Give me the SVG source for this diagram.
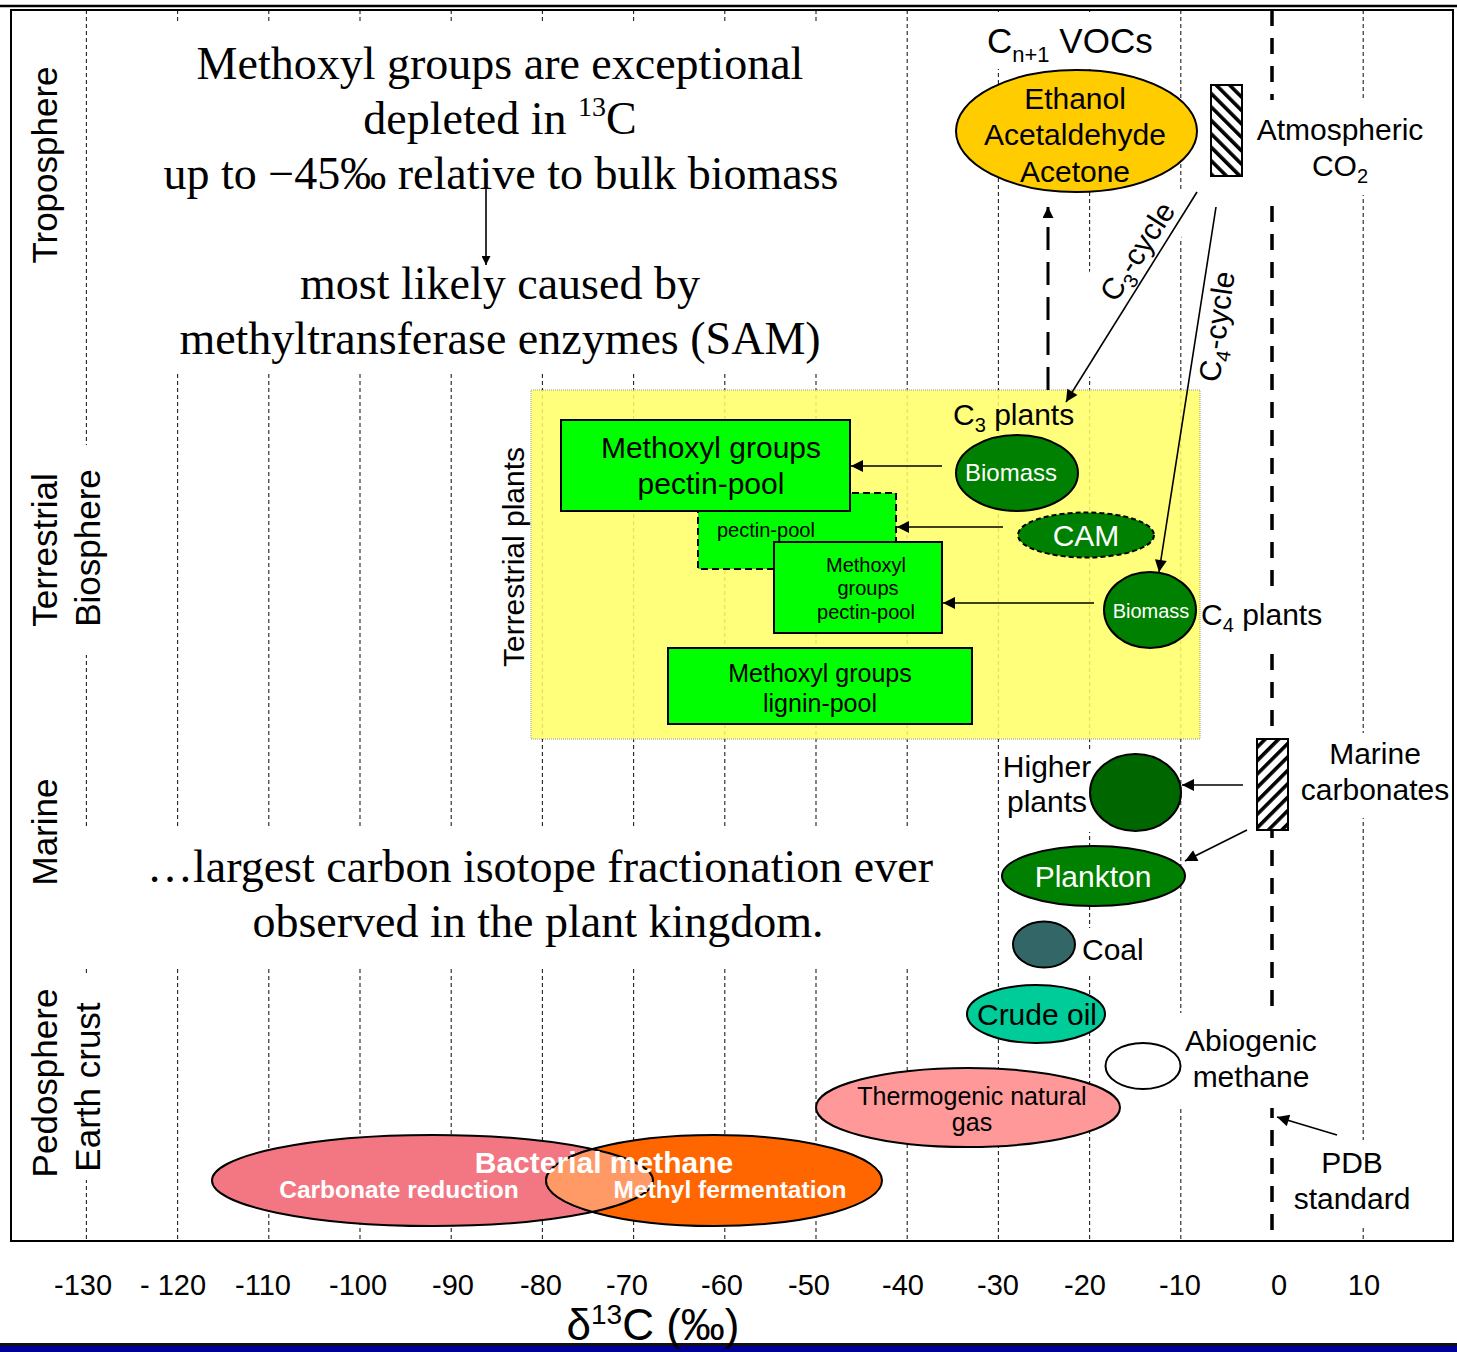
<svg xmlns="http://www.w3.org/2000/svg" width="1457" height="1352" viewBox="0 0 1457 1352">
<style>
text{font-family:"Liberation Sans",Arial,sans-serif;fill:#000}
.serif{font-family:"Liberation Serif","Times New Roman",serif;font-size:46px;text-anchor:middle}
.lbl{font-size:30px}
.mid{text-anchor:middle}
.axis{font-size:29px;text-anchor:middle}
.side{font-size:35px;text-anchor:middle}
.grid{stroke:#222;stroke-width:1.1;stroke-dasharray:4 3;fill:none}
.bg{fill:#fff}
.box{fill:#00ff00;stroke:#000;stroke-width:2}
.ell{stroke:#000;stroke-width:2}
.edge{stroke:#000;stroke-width:1.6;fill:none;marker-end:url(#ah)}
.wt{fill:#fff}
.bold{font-weight:bold}
</style>
<defs>
  <marker id="ah" viewBox="0 0 10 10" refX="10" refY="5" markerUnits="userSpaceOnUse" markerWidth="15" markerHeight="12" orient="auto">
    <path d="M0,0 L10,5 L0,10 z" fill="#000"/>
  </marker>
  <marker id="ahSmall" viewBox="0 0 10 10" refX="10" refY="5" markerUnits="userSpaceOnUse" markerWidth="12" markerHeight="9" orient="auto">
    <path d="M0,0 L10,5 L0,10 z" fill="#000"/>
  </marker>
  <marker id="ahThin" viewBox="0 0 10 10" refX="10" refY="5" markerUnits="userSpaceOnUse" markerWidth="14" markerHeight="11" orient="auto">
    <path d="M0,0 L10,5 L0,10 z" fill="#000"/>
  </marker>
  <!-- back-slash hatch for atmospheric CO2 -->
  <pattern id="hatchBack" patternUnits="userSpaceOnUse" width="9.5" height="9.5" patternTransform="rotate(-45)">
    <rect width="9.5" height="9.5" fill="#fff"/>
    <rect width="3.6" height="9.5" fill="#000"/>
  </pattern>
  <!-- forward-slash hatch for marine carbonates -->
  <pattern id="hatchFwd" patternUnits="userSpaceOnUse" width="9.5" height="9.5" patternTransform="rotate(45)">
    <rect width="9.5" height="9.5" fill="#fff"/>
    <rect width="3.6" height="9.5" fill="#000"/>
  </pattern>
  <clipPath id="clipOrange"><ellipse cx="714" cy="1180.5" rx="168" ry="45.5"/></clipPath>
  <clipPath id="clipPink"><ellipse cx="432.5" cy="1180.5" rx="220.5" ry="45.5"/></clipPath>
</defs>

<rect width="1457" height="1352" fill="#fff"/>

<!-- vertical delta-13C grid -->
<g id="grid">
  <line class="grid" x1="86.4" y1="10" x2="86.4" y2="1241"/>
  <line class="grid" x1="177.6" y1="10" x2="177.6" y2="1241"/>
  <line class="grid" x1="268.8" y1="10" x2="268.8" y2="1241"/>
  <line class="grid" x1="360" y1="10" x2="360" y2="1241"/>
  <line class="grid" x1="451.2" y1="10" x2="451.2" y2="1241"/>
  <line class="grid" x1="542.4" y1="10" x2="542.4" y2="1241"/>
  <line class="grid" x1="633.6" y1="10" x2="633.6" y2="1241"/>
  <line class="grid" x1="724.8" y1="10" x2="724.8" y2="1241"/>
  <line class="grid" x1="816" y1="10" x2="816" y2="1241"/>
  <line class="grid" x1="907.2" y1="10" x2="907.2" y2="1241"/>
  <line class="grid" x1="998.4" y1="10" x2="998.4" y2="1241"/>
  <line class="grid" x1="1089.6" y1="10" x2="1089.6" y2="1241"/>
  <line class="grid" x1="1180.8" y1="10" x2="1180.8" y2="1241"/>
  <line class="grid" x1="1363.2" y1="10" x2="1363.2" y2="1241"/>
  <!-- PDB standard (0 permil) -->
  <line x1="1272" y1="10" x2="1272" y2="1241" stroke="#000" stroke-width="3.5" stroke-dasharray="16 12"/>
</g>

<!-- opaque text-box backgrounds that break the grid -->
<g id="label-backgrounds">
  <rect class="bg" x="160" y="21" width="686" height="350"/>
  <rect class="bg" x="965" y="12" width="200" height="57"/>
  <rect class="bg" x="1252" y="100" width="176" height="95"/>
  <rect class="bg" x="-103" y="-29" width="206" height="58" transform="translate(1122 275) rotate(-57)"/>
  <rect class="bg" x="1198" y="588" width="125" height="60"/>
  <rect class="bg" x="1296" y="733" width="156" height="85"/>
  <rect class="bg" x="1001" y="752" width="91" height="80"/>
  <rect class="bg" x="80" y="828" width="905" height="139"/>
  <rect class="bg" x="1079" y="928" width="70" height="46"/>
  <rect class="bg" x="1178" y="1013" width="147" height="95"/>
  <rect class="bg" x="1290" y="1140" width="125" height="87"/>
  <rect class="bg" x="25" y="445" width="85" height="210"/>
  <rect class="bg" x="25" y="975" width="85" height="205"/>
</g>

<!-- frame -->
<line x1="0" y1="6" x2="1457" y2="6" stroke="#000" stroke-width="2.5"/>
<rect x="11" y="10" width="1442" height="1231" fill="none" stroke="#000" stroke-width="2"/>
<rect x="0" y="1343" width="1457" height="3" fill="#111"/>
<rect x="0" y="1346" width="1457" height="6" fill="#000099"/>

<!-- reservoir labels -->
<g id="reservoirs">
  <text class="side" transform="rotate(-90 57 165)" x="57" y="165">Troposphere</text>
  <text class="side" transform="rotate(-90 57 550)" x="57" y="550">Terrestrial</text>
  <text class="side" transform="rotate(-90 100 548)" x="100" y="548">Biosphere</text>
  <text class="side" transform="rotate(-90 57 832)" x="57" y="832">Marine</text>
  <text class="side" transform="rotate(-90 57 1083)" x="57" y="1083">Pedosphere</text>
  <text class="side" transform="rotate(-90 100 1087)" x="100" y="1087">Earth crust</text>
</g>

<!-- headline statements -->
<g id="statement-top">
  <text class="serif" x="500" y="79">Methoxyl groups are exceptional</text>
  <text class="serif" x="500" y="134">depleted in <tspan font-size="28" dy="-18">13</tspan><tspan dy="18">C</tspan></text>
  <text class="serif" x="501" y="189">up to −45‰ relative to bulk biomass</text>
</g>
<g id="statement-cause">
  <text class="serif" x="500" y="299">most likely caused by</text>
  <text class="serif" x="500" y="354">methyltransferase enzymes (SAM)</text>
</g>
<g id="statement-bottom">
  <text class="serif" x="540" y="882">…largest carbon isotope fractionation ever</text>
  <text class="serif" x="538" y="937">observed in the plant kingdom.</text>
</g>

<!-- terrestrial plants panel -->
<g id="terrestrial-plants">
  <rect x="531" y="390" width="669" height="349" fill="#ffff66" fill-opacity="0.86" stroke="#999" stroke-width="1" stroke-dasharray="1 1"/>
  <text transform="rotate(-90 524 557)" x="524" y="557" class="mid" font-size="30">Terrestrial plants</text>
</g>

<g id="cam-pectin-pool">
  <rect x="698" y="493" width="198" height="76" fill="#00ff00" stroke="#000" stroke-width="2" stroke-dasharray="7 4"/>
  <text x="717" y="537" font-size="20">pectin-pool</text>
</g>
<g id="c3-pectin-pool">
  <rect class="box" x="561" y="420" width="289" height="91"/>
  <text class="lbl mid" x="711" y="458">Methoxyl groups</text>
  <text class="lbl mid" x="711" y="494">pectin-pool</text>
</g>
<g id="c4-pectin-pool">
  <rect class="box" x="774" y="542" width="168" height="91"/>
  <text class="mid" font-size="20" x="866" y="572">Methoxyl</text>
  <text class="mid" font-size="20" x="868" y="595">groups</text>
  <text class="mid" font-size="20" x="866" y="619">pectin-pool</text>
</g>
<g id="lignin-pool">
  <rect class="box" x="668" y="648" width="304" height="76"/>
  <text class="mid" font-size="25" x="820" y="682">Methoxyl groups</text>
  <text class="mid" font-size="25" x="820" y="712">lignin-pool</text>
</g>

<g id="c3-biomass">
  <ellipse class="ell" cx="1017" cy="473" rx="61" ry="38" fill="#008000"/>
  <text class="wt mid" font-size="24" x="1011" y="481">Biomass</text>
  <text class="lbl" x="953" y="425">C<tspan font-size="20" dy="7">3</tspan><tspan dy="-7"> plants</tspan></text>
</g>
<g id="cam">
  <ellipse cx="1086" cy="535" rx="68" ry="22.5" fill="#008000" stroke="#000" stroke-width="2" stroke-dasharray="5 3"/>
  <text class="wt mid lbl" x="1086" y="546">CAM</text>
</g>
<g id="c4-biomass">
  <ellipse class="ell" cx="1150" cy="610" rx="46" ry="38" fill="#008000"/>
  <text class="wt mid" font-size="20" x="1151" y="618">Biomass</text>
  <text class="lbl" x="1201" y="625">C<tspan font-size="20" dy="7">4</tspan><tspan dy="-7"> plants</tspan></text>
</g>

<!-- troposphere -->
<g id="vocs">
  <ellipse class="ell" cx="1076.5" cy="131" rx="120.5" ry="61" fill="#ffcc00"/>
  <text class="lbl mid" x="1075" y="109">Ethanol</text>
  <text class="lbl mid" x="1075" y="145">Acetaldehyde</text>
  <text class="lbl mid" x="1075" y="182">Acetone</text>
  <text x="987" y="53" font-size="35">C<tspan font-size="22" dy="9">n+1</tspan><tspan dy="-9"> VOCs</tspan></text>
</g>
<g id="atmospheric-co2">
  <rect x="1211" y="85" width="31" height="91" fill="url(#hatchBack)" stroke="#000" stroke-width="2"/>
  <text class="lbl mid" x="1340" y="140">Atmospheric</text>
  <text class="lbl mid" x="1340" y="176">CO<tspan font-size="20" dy="7">2</tspan></text>
</g>

<!-- marine -->
<g id="marine-carbonates">
  <rect x="1257" y="739" width="31" height="91" fill="url(#hatchFwd)" stroke="#000" stroke-width="2"/>
  <text class="lbl mid" x="1375" y="764">Marine</text>
  <text class="lbl mid" x="1375" y="800">carbonates</text>
</g>
<g id="higher-plants">
  <ellipse class="ell" cx="1135.5" cy="792.5" rx="45.5" ry="38.5" fill="#006600"/>
  <text class="lbl mid" x="1047" y="777">Higher</text>
  <text class="lbl mid" x="1047" y="812">plants</text>
</g>
<g id="plankton">
  <ellipse class="ell" cx="1093.5" cy="876" rx="91.5" ry="30" fill="#008000"/>
  <text class="wt lbl mid" x="1093" y="887">Plankton</text>
</g>

<!-- earth crust -->
<g id="coal">
  <ellipse class="ell" cx="1044" cy="944.5" rx="31" ry="23" fill="#336666"/>
  <text class="lbl" x="1082" y="960">Coal</text>
</g>
<g id="crude-oil">
  <ellipse class="ell" cx="1036" cy="1014" rx="69" ry="29" fill="#00cc99"/>
  <text class="lbl mid" x="1037" y="1025">Crude oil</text>
</g>
<g id="abiogenic-methane">
  <ellipse class="ell" cx="1143" cy="1066" rx="37.5" ry="23" fill="#fff"/>
  <text class="lbl mid" x="1251" y="1051">Abiogenic</text>
  <text class="lbl mid" x="1251" y="1087">methane</text>
</g>
<g id="thermogenic-gas">
  <ellipse class="ell" cx="968" cy="1107.5" rx="152" ry="39.5" fill="#ff9999"/>
  <text class="mid" font-size="25" x="972" y="1105">Thermogenic natural</text>
  <text class="mid" font-size="25" x="972" y="1131">gas</text>
</g>
<g id="bacterial-methane">
  <ellipse class="ell" cx="432.5" cy="1180.5" rx="220.5" ry="45.5" fill="#f27783"/>
  <ellipse class="ell" cx="714" cy="1180.5" rx="168" ry="45.5" fill="#ff6600"/>
  <ellipse class="ell" cx="432.5" cy="1180.5" rx="220.5" ry="45.5" fill="#ff9966" clip-path="url(#clipOrange)"/>
  <ellipse class="ell" cx="714" cy="1180.5" rx="168" ry="45.5" fill="none" clip-path="url(#clipPink)"/>
  <text class="wt bold mid" font-size="30" x="604" y="1173">Bacterial methane</text>
  <text class="wt bold mid" font-size="24.5" x="399" y="1198">Carbonate reduction</text>
  <text class="wt bold mid" font-size="24.5" x="730" y="1198">Methyl fermentation</text>
</g>
<g id="pdb-standard">
  <text class="lbl mid" x="1352" y="1173">PDB</text>
  <text class="lbl mid" x="1352" y="1209">standard</text>
</g>

<!-- connectors -->
<g id="connectors">
  <line x1="486" y1="189" x2="486" y2="265" stroke="#000" stroke-width="1.6" marker-end="url(#ahSmall)"/>
  <line x1="1048" y1="390" x2="1048" y2="207" stroke="#000" stroke-width="3" stroke-dasharray="23 12" marker-end="url(#ahThin)"/>
  <line class="edge" x1="1197" y1="192" x2="1066" y2="402"/>
  <line class="edge" x1="1216" y1="207" x2="1159" y2="572"/>
  <line class="edge" x1="942" y1="466" x2="851" y2="466"/>
  <line class="edge" x1="1003" y1="527" x2="897" y2="527"/>
  <line class="edge" x1="1094" y1="603" x2="943" y2="603"/>
  <line class="edge" x1="1243" y1="785" x2="1182" y2="785"/>
  <line class="edge" x1="1247" y1="830" x2="1185" y2="861"/>
  <line class="edge" x1="1337" y1="1135" x2="1277" y2="1117"/>
  <text class="lbl mid" transform="rotate(-57 1146 257)" x="1146" y="257">C<tspan font-size="20" dy="7">3</tspan><tspan dy="-7">-cycle</tspan></text>
  <text class="lbl mid" transform="rotate(-82 1227 328)" x="1227" y="328">C<tspan font-size="20" dy="7">4</tspan><tspan dy="-7">-cycle</tspan></text>
</g>

<!-- x axis -->
<g id="axis">
  <text class="axis" x="83" y="1295">-130</text>
  <text class="axis" x="173" y="1295">- 120</text>
  <text class="axis" x="263" y="1295">-110</text>
  <text class="axis" x="358" y="1295">-100</text>
  <text class="axis" x="453" y="1295">-90</text>
  <text class="axis" x="541" y="1295">-80</text>
  <text class="axis" x="627" y="1295">-70</text>
  <text class="axis" x="722" y="1295">-60</text>
  <text class="axis" x="809" y="1295">-50</text>
  <text class="axis" x="903" y="1295">-40</text>
  <text class="axis" x="998" y="1295">-30</text>
  <text class="axis" x="1085" y="1295">-20</text>
  <text class="axis" x="1180" y="1295">-10</text>
  <text class="axis" x="1279" y="1295">0</text>
  <text class="axis" x="1364" y="1295">10</text>
  <text class="mid" font-size="44" x="653" y="1340">δ<tspan font-size="28" dy="-16">13</tspan><tspan dy="16">C (‰)</tspan></text>
</g>
</svg>
